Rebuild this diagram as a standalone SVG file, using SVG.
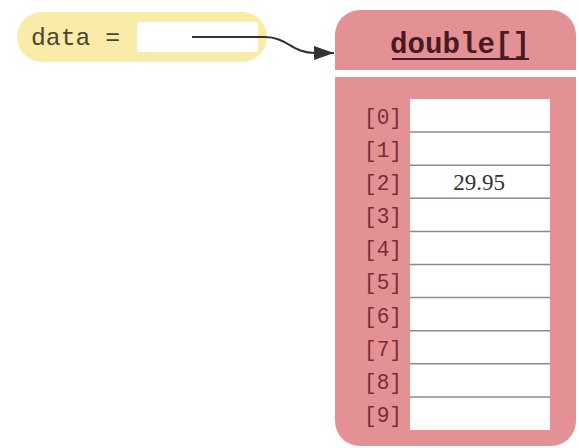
<svg xmlns="http://www.w3.org/2000/svg" width="579" height="448" viewBox="0 0 579 448">
<style>
.mono{font-family:"Liberation Mono","DejaVu Sans Mono",monospace}
.idx{font-size:22px;fill:#7b2c35}
.cell{fill:#ffffff}
.rowline{stroke:#8a8a94;stroke-width:1.5}
.red{fill:#e39194}
</style>
<defs>
<marker id="ahb" viewBox="0 0 20 14" refX="20" refY="7" markerWidth="20" markerHeight="14" markerUnits="userSpaceOnUse" orient="auto">
<path d="M0,0 L20,7 L0,14 Z" fill="#333"/>
</marker>
</defs>
<rect width="579" height="448" fill="#ffffff"/>
<g id="var-data">
<rect x="17" y="12" width="250" height="50" rx="25" fill="#f9eca8"/>
<rect x="137" y="22" width="121" height="30" rx="3" fill="#ffffff"/>
<text class="mono" x="31" y="45" font-size="24" fill="#4a4632" textLength="89" lengthAdjust="spacingAndGlyphs">data =</text>
</g>
<g id="array-double">
<path class="red" d="M335,70 V35 A25,25 0 0 1 360,10 H551 A25,25 0 0 1 576,35 V70 Z"/>
<path class="red" d="M335,77 H576 V421 A25,25 0 0 1 551,446 H360 A25,25 0 0 1 335,421 Z"/>
<text class="mono" x="390" y="53" font-size="29" font-weight="bold" fill="#4a1a22" textLength="140" lengthAdjust="spacingAndGlyphs">double[]</text>
<line x1="392" y1="59" x2="529" y2="59" stroke="#4a1a22" stroke-width="2"/>
<rect class="cell" x="410" y="99" width="140" height="331"/>
<g class="rowline">
<line x1="410" y1="132.1" x2="550" y2="132.1"/>
<line x1="410" y1="165.2" x2="550" y2="165.2"/>
<line x1="410" y1="198.3" x2="550" y2="198.3"/>
<line x1="410" y1="231.4" x2="550" y2="231.4"/>
<line x1="410" y1="264.5" x2="550" y2="264.5"/>
<line x1="410" y1="297.6" x2="550" y2="297.6"/>
<line x1="410" y1="330.7" x2="550" y2="330.7"/>
<line x1="410" y1="363.8" x2="550" y2="363.8"/>
<line x1="410" y1="396.9" x2="550" y2="396.9"/>
</g>
<g class="mono idx">
<text x="364" y="124" textLength="38" lengthAdjust="spacingAndGlyphs">[0]</text>
<text x="364" y="157" textLength="38" lengthAdjust="spacingAndGlyphs">[1]</text>
<text x="364" y="190" textLength="38" lengthAdjust="spacingAndGlyphs">[2]</text>
<text x="364" y="223" textLength="38" lengthAdjust="spacingAndGlyphs">[3]</text>
<text x="364" y="256" textLength="38" lengthAdjust="spacingAndGlyphs">[4]</text>
<text x="364" y="289" textLength="38" lengthAdjust="spacingAndGlyphs">[5]</text>
<text x="364" y="323" textLength="38" lengthAdjust="spacingAndGlyphs">[6]</text>
<text x="364" y="356" textLength="38" lengthAdjust="spacingAndGlyphs">[7]</text>
<text x="364" y="389" textLength="38" lengthAdjust="spacingAndGlyphs">[8]</text>
<text x="364" y="422" textLength="38" lengthAdjust="spacingAndGlyphs">[9]</text>
</g>
<text x="479" y="190" font-family="Liberation Serif,serif" font-size="23" fill="#333" text-anchor="middle">29.95</text>
</g>
<g id="connectors">
<path d="M192,37 H265 C287,37 292,53 315,53 H334" fill="none" stroke="#333" stroke-width="2" marker-end="url(#ahb)"/>
</g>
</svg>
